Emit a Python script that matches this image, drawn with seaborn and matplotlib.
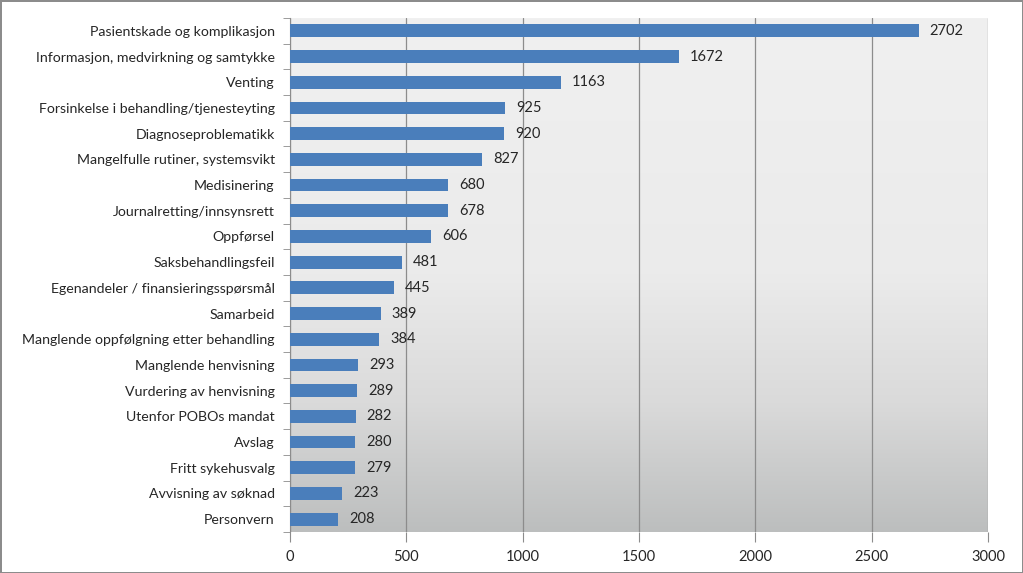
import numpy as np
import pandas as pd
import seaborn as sns
import matplotlib.pyplot as plt
from matplotlib.colors import LinearSegmentedColormap

categories = [
    "Pasientskade og komplikasjon",
    "Informasjon, medvirkning og samtykke",
    "Venting",
    "Forsinkelse i behandling/tjenesteyting",
    "Diagnoseproblematikk",
    "Mangelfulle rutiner, systemsvikt",
    "Medisinering",
    "Journalretting/innsynsrett",
    "Oppførsel",
    "Saksbehandlingsfeil",
    "Egenandeler / finansieringsspørsmål",
    "Samarbeid",
    "Manglende oppfølgning etter behandling",
    "Manglende henvisning",
    "Vurdering av henvisning",
    "Utenfor POBOs mandat",
    "Avslag",
    "Fritt sykehusvalg",
    "Avvisning av søknad",
    "Personvern",
]
values = [2702, 1672, 1163, 925, 920, 827, 680, 678, 606, 481,
          445, 389, 384, 293, 289, 282, 280, 279, 223, 208]
x_ticks = [0, 500, 1000, 1500, 2000, 2500, 3000]

sns.set_style("white")
plt.rcParams["font.family"] = ["Lato", "DejaVu Sans"]

df = pd.DataFrame({"kategori": categories, "antall": values})

fig = plt.figure(figsize=(10.23, 5.73), dpi=100)
fig.patch.set_edgecolor("#8c8c8c")
fig.patch.set_linewidth(2)
ax = fig.add_axes([0.2835, 0.0716, 0.6823, 0.897])

# gradient background like the Excel plot area
cmap = LinearSegmentedColormap.from_list(
    "bg", [(0, "#f0f0f0"), (0.5, "#ebebeb"), (0.75, "#dadada"), (1, "#bcbebe")]
)
grad = np.linspace(0, 1, 256).reshape(-1, 1)
ax.imshow(grad, cmap=cmap, aspect="auto", extent=[0, 3000, len(categories) - 0.5, -0.5],
          zorder=0)

sns.barplot(data=df, y="kategori", x="antall", color="#4a7ebb", saturation=1,
            width=0.5, linewidth=0, ax=ax, zorder=3)

ax.set_xlim(0, 3000)
ax.set_ylim(len(categories) - 0.5, -0.5)
ax.set_xticks(x_ticks)
ax.set_xticklabels([str(t) for t in x_ticks], fontsize=10.5)
ax.xaxis.grid(True, color="#8c8c8c", linewidth=0.9)
for line in ax.get_xgridlines():
    line.set_zorder(1)
ax.set_xlabel("")
ax.set_ylabel("")
ax.tick_params(axis="y", length=0, labelsize=10.2, pad=11)
ax.set_yticks(np.arange(-0.5, len(categories)), minor=True)
ax.tick_params(axis="y", which="minor", length=5, color="#8c8c8c", direction="out", left=True)
ax.tick_params(axis="x", length=7, color="#8c8c8c", direction="out", bottom=True, pad=6)

for side in ["top", "right", "bottom"]:
    ax.spines[side].set_visible(False)
ax.spines["left"].set_color("#8c8c8c")

for c in ax.containers:
    ax.bar_label(c, padding=8, fontsize=10.5)

fig.savefig("out.png", dpi=100, edgecolor=fig.get_edgecolor())
